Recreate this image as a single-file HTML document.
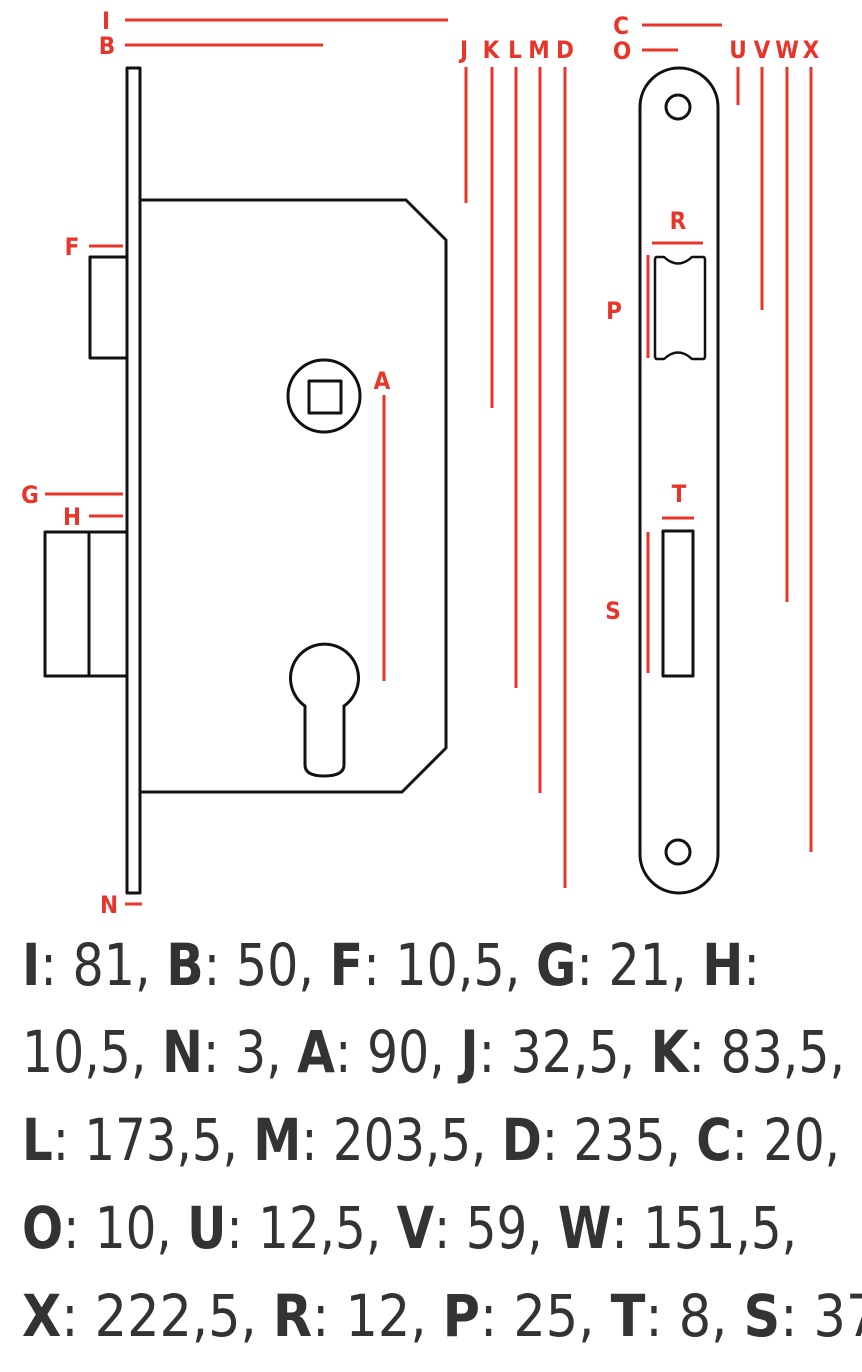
<!DOCTYPE html>
<html><head><meta charset="utf-8"><style>
html,body{margin:0;padding:0;background:#fff;}
svg{display:block;}
.l{font-family:"DejaVu Sans Condensed","DejaVu Sans","Liberation Sans",sans-serif;font-weight:bold;font-size:24px;fill:#e8352a;text-anchor:middle;}
.t{font-family:"DejaVu Sans Condensed","DejaVu Sans","Liberation Sans",sans-serif;font-size:58px;fill:#333;}
.t tspan.b{font-weight:bold;}
</style></head><body>
<svg width="862" height="1372" viewBox="0 0 862 1372" xmlns="http://www.w3.org/2000/svg">
<g fill="none" stroke="#111" stroke-width="3" stroke-linejoin="round">
<rect x="127" y="68" width="13" height="825"/>
<path d="M140,200 L406,200 L446,240 L446,748 L402,792 L140,792"/>
<rect x="90" y="257" width="37" height="101"/>
<rect x="45" y="532" width="82" height="144"/>
<line x1="89" y1="532" x2="89" y2="676"/>
<circle cx="324" cy="396" r="36"/>
<rect x="309" y="381" width="32" height="32"/>
<path d="M305,706 A34,34 0 1,1 344,706 L344,765 Q344,776 324,776 Q305,776 305,765 Z"/>
<rect x="640" y="68" width="78" height="825" rx="39"/>
<circle cx="678" cy="107" r="12"/>
<circle cx="678" cy="852" r="12"/>
<path d="M656,257 L664,257 Q678,270 692,257 L704,257 L705,259 L705,357 L704,359 L692,359 Q678,346 664,359 L656,359 L655,357 L655,259 Z" stroke-width="2.5"/>
<rect x="663" y="531" width="30" height="145"/>
</g>
<g stroke="#e8352a" stroke-width="3">
<line x1="125" y1="20" x2="448" y2="20"/>
<line x1="125" y1="45" x2="323" y2="45"/>
<line x1="466" y1="67" x2="466" y2="203"/>
<line x1="492" y1="67" x2="492" y2="408"/>
<line x1="516" y1="67" x2="516" y2="688"/>
<line x1="540" y1="67" x2="540" y2="793"/>
<line x1="565" y1="67" x2="565" y2="888"/>
<line x1="89" y1="246" x2="123" y2="246"/>
<line x1="45" y1="494" x2="123" y2="494"/>
<line x1="89" y1="516" x2="123" y2="516"/>
<line x1="125" y1="904" x2="142" y2="904"/>
<line x1="384" y1="395" x2="384" y2="681"/>
<line x1="642" y1="25" x2="722" y2="25"/>
<line x1="642" y1="50" x2="678" y2="50"/>
<line x1="738" y1="67" x2="738" y2="105"/>
<line x1="762" y1="67" x2="762" y2="310"/>
<line x1="787" y1="67" x2="787" y2="602"/>
<line x1="811" y1="67" x2="811" y2="852"/>
<line x1="652" y1="243" x2="703" y2="243"/>
<line x1="648" y1="255" x2="648" y2="358"/>
<line x1="662" y1="518" x2="694" y2="518"/>
<line x1="648" y1="532" x2="648" y2="673"/>
</g>
<g class="l">
<text x="106" y="29">I</text>
<text x="107" y="54">B</text>
<text x="464" y="58">J</text>
<text x="491" y="58">K</text>
<text x="515" y="58">L</text>
<text x="539" y="58">M</text>
<text x="565" y="58">D</text>
<text x="72" y="255">F</text>
<text x="30" y="503">G</text>
<text x="72" y="525">H</text>
<text x="109" y="913">N</text>
<text x="382" y="389">A</text>
<text x="621" y="34">C</text>
<text x="622" y="59">O</text>
<text x="738" y="58">U</text>
<text x="762" y="58">V</text>
<text x="787" y="58">W</text>
<text x="811" y="58">X</text>
<text x="678" y="229">R</text>
<text x="614" y="319">P</text>
<text x="679" y="502">T</text>
<text x="613" y="619">S</text>
</g>
<g class="t">
<text x="22" y="985" textLength="738" lengthAdjust="spacingAndGlyphs"><tspan class="b">I</tspan>: 81, <tspan class="b">B</tspan>: 50, <tspan class="b">F</tspan>: 10,5, <tspan class="b">G</tspan>: 21, <tspan class="b">H</tspan>:</text>
<text x="22" y="1072" textLength="823" lengthAdjust="spacingAndGlyphs">10,5, <tspan class="b">N</tspan>: 3, <tspan class="b">A</tspan>: 90, <tspan class="b">J</tspan>: 32,5, <tspan class="b">K</tspan>: 83,5,</text>
<text x="22" y="1160" textLength="818" lengthAdjust="spacingAndGlyphs"><tspan class="b">L</tspan>: 173,5, <tspan class="b">M</tspan>: 203,5, <tspan class="b">D</tspan>: 235, <tspan class="b">C</tspan>: 20,</text>
<text x="22" y="1248" textLength="775" lengthAdjust="spacingAndGlyphs"><tspan class="b">O</tspan>: 10, <tspan class="b">U</tspan>: 12,5, <tspan class="b">V</tspan>: 59, <tspan class="b">W</tspan>: 151,5,</text>
<text x="22" y="1336" textLength="905" lengthAdjust="spacingAndGlyphs"><tspan class="b">X</tspan>: 222,5, <tspan class="b">R</tspan>: 12, <tspan class="b">P</tspan>: 25, <tspan class="b">T</tspan>: 8, <tspan class="b">S</tspan>: 37,5</text>
</g>
</svg>
</body></html>
